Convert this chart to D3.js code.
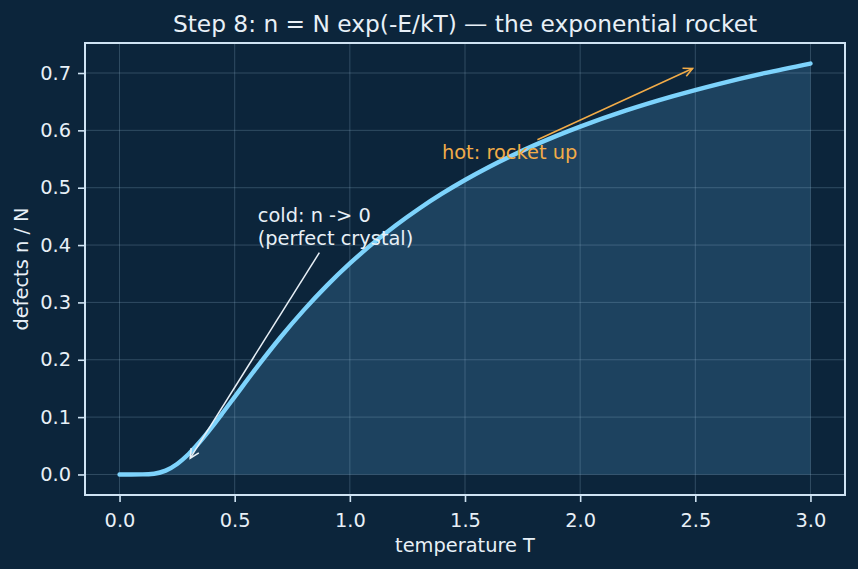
<!DOCTYPE html>
<html>
<head>
<meta charset="utf-8">
<script src="https://cdn.jsdelivr.net/npm/d3@7"></script>
<style>
  body { margin: 0; background: #0c253b; }
  svg { display: block; font-family: "DejaVu Sans", sans-serif; }
</style>
</head>
<body>
<script>
// temperature T and defect fraction n/N
var temps   = [0, 0.05, 0.1, 0.15, 0.2, 0.25, 0.3, 0.35, 0.4, 0.45, 0.5, 0.6, 0.7, 0.8, 0.9, 1.0,
               1.1, 1.2, 1.3, 1.4, 1.5, 1.6, 1.7, 1.8, 1.9, 2.0, 2.2, 2.4, 2.6, 2.8, 3.0]
var defects = [0, 0, 0.0001, 0.0013, 0.0067, 0.0183, 0.0357, 0.0574, 0.0821, 0.1084, 0.1353, 0.1889,
               0.2397, 0.2865, 0.3292, 0.3679, 0.4029, 0.4346, 0.4634, 0.4895, 0.5134, 0.5353,
               0.5553, 0.5738, 0.5908, 0.6065, 0.6347, 0.6592, 0.6807, 0.6997, 0.7165]
var xTicks = [0, 0.5, 1.0, 1.5, 2.0, 2.5, 3.0]
var yTicks = [0, 0.1, 0.2, 0.3, 0.4, 0.5, 0.6, 0.7]

var coldNote = {text: ["cold: n -> 0", "(perfect crystal)"], at: [0.6, 0.4], to: [0.3, 0.024]}
var hotNote  = {text: ["hot: rocket up"], at: [1.4, 0.55], to: [2.5, 0.71]}

var width = 858, height = 569
var margin = {top: 43, left: 85, bottom: 74, right: 13}
var chartWidth = width - margin.left - margin.right
var chartHeight = height - margin.top - margin.bottom

var bg = "#0c253b", fg = "#e8f0f7", lineColor = "#7dd3fc", orange = "#f2ac48"

var data = temps.map(function(t, i) { return {t: t, n: defects[i]} })

var svg = d3.select("body").append("svg")
    .attr("width", width).attr("height", height)

svg.append("rect").attr("width", width).attr("height", height).attr("fill", bg)

// matplotlib style 5% padding
var xExt = d3.extent(temps), yExt = d3.extent(defects)
var xPad = (xExt[1] - xExt[0]) * 0.05, yPad = (yExt[1] - yExt[0]) * 0.05
var x = d3.scaleLinear().domain([xExt[0] - xPad, xExt[1] + xPad]).range([0, chartWidth])
var y = d3.scaleLinear().domain([yExt[0] - yPad, yExt[1] + yPad]).range([chartHeight, 0])

var g = svg.append("g").attr("transform", "translate(" + [margin.left, margin.top] + ")")

// fill under curve
var area = d3.area()
    .x(function(d) { return x(d.t) })
    .y0(y(0))
    .y1(function(d) { return y(d.n) })
    .curve(d3.curveMonotoneX)
g.append("path").datum(data).attr("d", area).attr("fill", "#2a5778").attr("opacity", 0.6)

// grid
var grid = g.append("g").attr("class", "grid")
grid.selectAll(".gx").data(xTicks).enter().append("line")
    .attr("x1", function(d) { return x(d) }).attr("x2", function(d) { return x(d) })
    .attr("y1", 0).attr("y2", chartHeight)
grid.selectAll(".gy").data(yTicks).enter().append("line")
    .attr("x1", 0).attr("x2", chartWidth)
    .attr("y1", function(d) { return y(d) }).attr("y2", function(d) { return y(d) })
grid.selectAll("line").attr("stroke", "#9fc3dd").attr("stroke-opacity", 0.25).attr("stroke-width", 1)

// curve
var line = d3.line()
    .x(function(d) { return x(d.t) })
    .y(function(d) { return y(d.n) })
    .curve(d3.curveMonotoneX)
g.append("path").datum(data).attr("d", line)
    .attr("fill", "none").attr("stroke", lineColor).attr("stroke-width", 4.4)
    .attr("stroke-linecap", "round").attr("stroke-linejoin", "round")

// axes
var xAxis = g.append("g").attr("transform", "translate(0," + chartHeight + ")")
    .call(d3.axisBottom(x).tickValues(xTicks).tickFormat(d3.format(".1f")).tickSize(7).tickPadding(7))
var yAxis = g.append("g")
    .call(d3.axisLeft(y).tickValues(yTicks).tickFormat(d3.format(".1f")).tickSize(7).tickPadding(7))
;[xAxis, yAxis].forEach(function(a) {
    a.select(".domain").remove()
    a.selectAll(".tick line").attr("stroke", "#cfe3f3").attr("stroke-width", 1.6)
    a.selectAll(".tick text").attr("fill", fg).attr("font-size", 19.4)
        .attr("font-family", "DejaVu Sans")
})
xAxis.selectAll(".tick text").attr("dy", "0.95em")

// frame
g.append("rect").attr("width", chartWidth).attr("height", chartHeight)
    .attr("fill", "none").attr("stroke", "#cfe3f3").attr("stroke-width", 2)

// labels
svg.append("text").attr("x", margin.left + chartWidth / 2).attr("y", 32)
    .attr("text-anchor", "middle").attr("fill", fg).attr("font-size", 23.3)
    .text("Step 8: n = N exp(-E/kT) \u2014 the exponential rocket")
svg.append("text").attr("x", margin.left + chartWidth / 2).attr("y", 552)
    .attr("text-anchor", "middle").attr("fill", fg).attr("font-size", 19.4)
    .text("temperature T")
svg.append("text").attr("transform", "translate(28," + (margin.top + chartHeight / 2) + ") rotate(-90)")
    .attr("text-anchor", "middle").attr("fill", fg).attr("font-size", 19.4)
    .text("defects n / N")

// annotations
var defs = svg.append("defs")
function marker(id, color) {
    defs.append("marker").attr("id", id)
        .attr("viewBox", "-11 -6 13 12").attr("refX", 0).attr("refY", 0)
        .attr("markerWidth", 13).attr("markerHeight", 12).attr("markerUnits", "userSpaceOnUse")
        .attr("orient", "auto")
        .append("path").attr("d", "M-9,-4.5 L0,0 L-9,4.5")
        .attr("fill", "none").attr("stroke", color).attr("stroke-width", 1.6)
}
marker("headW", fg)
marker("headO", orange)

function annotate(note, color, mk) {
    var lh = 23.3
    var n = note.text.length
    var t = g.append("text").attr("fill", color).attr("font-size", 19.4)
    note.text.forEach(function(s, i) {
        t.append("tspan").attr("x", x(note.at[0]))
            .attr("y", y(note.at[1]) - (n - 1 - i) * lh).text(s)
    })
    var bb = t.node().getBBox()
    var cx = bb.x + bb.width / 2, cy = bb.y + bb.height / 2
    var tx = x(note.to[0]), ty = y(note.to[1])
    var dx = tx - cx, dy = ty - cy
    // clip at text box edge
    var s = Math.min(Math.abs((bb.width / 2) / dx), Math.abs((bb.height / 2) / dy))
    var len = Math.sqrt(dx * dx + dy * dy)
    var sx = cx + dx * s + dx / len * 3, sy = cy + dy * s + dy / len * 3
    var ex = tx - dx / len * 3, ey = ty - dy / len * 3
    g.append("line").attr("x1", sx).attr("y1", sy).attr("x2", ex).attr("y2", ey)
        .attr("stroke", color).attr("stroke-width", 1.5).attr("marker-end", "url(#" + mk + ")")
}
annotate(coldNote, fg, "headW")
annotate(hotNote, orange, "headO")
</script>
</body>
</html>
